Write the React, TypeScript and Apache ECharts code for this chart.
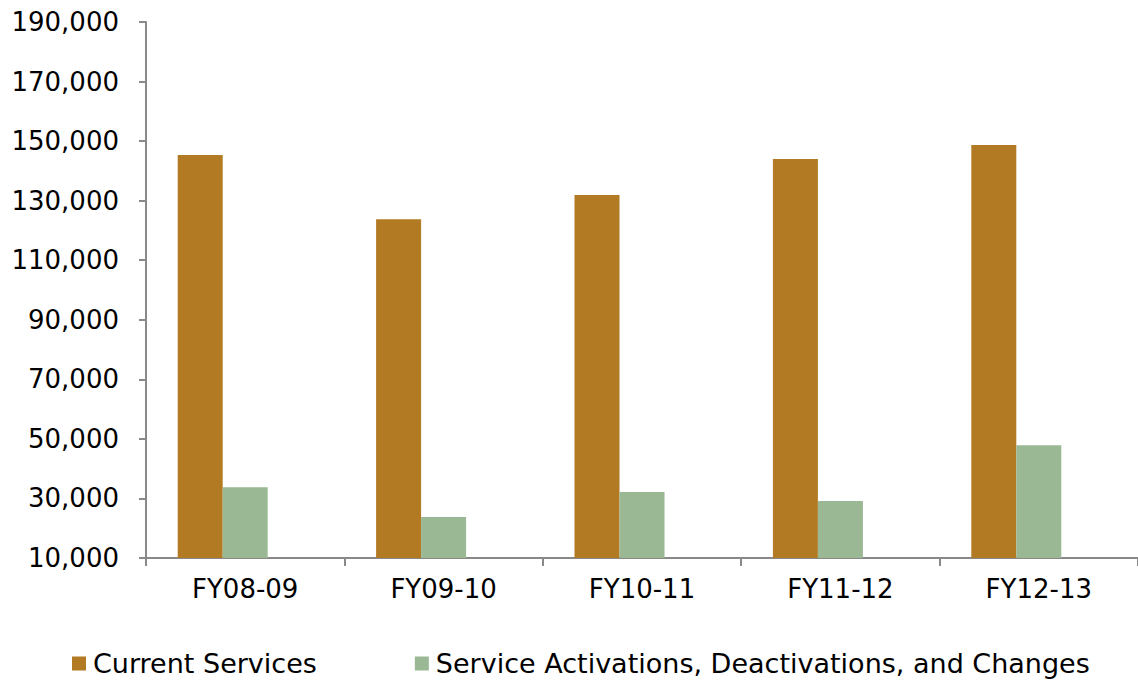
import React, { useEffect, useRef } from "react";
import * as echarts from "echarts";

const categories = ["FY08-09", "FY09-10", "FY10-11", "FY11-12", "FY12-13"];
const currentServices = [145300, 123800, 131900, 144000, 148700];
const activationsChanges = [33800, 23800, 32200, 29100, 47900];
const seriesNames = ["Current Services", "Service Activations, Deactivations, and Changes"];

const FONT = "DejaVu Sans";
const AXIS_COLOR = "#898989";

export default function App() {
  const ref = useRef<HTMLDivElement>(null);
  useEffect(() => {
    if (!ref.current) return;
    const chart = echarts.init(ref.current, undefined, { renderer: "svg" });
    chart.setOption({
      animation: false,
      backgroundColor: "#ffffff",
      textStyle: { fontFamily: FONT },
      grid: { left: 146, top: 22, right: 0, bottom: 123, containLabel: false },
      legend: {
        data: seriesNames,
        left: 72,
        top: 650,
        padding: 0,
        itemWidth: 14,
        itemHeight: 14,
        itemGap: 98,
        icon: "rect",
        textStyle: { fontFamily: FONT, fontSize: 27, color: "#000000", padding: [0, 0, 0, 2] },
      },
      xAxis: {
        type: "category",
        data: categories,
        axisLine: { show: true, lineStyle: { color: AXIS_COLOR, width: 2 } },
        axisTick: { show: true, length: 8, lineStyle: { color: AXIS_COLOR, width: 2 } },
        axisLabel: { fontFamily: FONT, fontSize: 26, color: "#000000", margin: 18 },
      },
      yAxis: {
        type: "value",
        min: 10000,
        max: 190000,
        interval: 20000,
        splitLine: { show: false },
        axisLine: { show: true, lineStyle: { color: AXIS_COLOR, width: 2 } },
        axisTick: { show: true, length: 7, lineStyle: { color: AXIS_COLOR, width: 2 } },
        axisLabel: {
          fontFamily: FONT,
          fontSize: 26,
          color: "#000000",
          margin: 27,
          formatter: (v: number) => v.toLocaleString("en-US"),
        },
      },
      series: [
        {
          name: seriesNames[0],
          type: "bar",
          data: currentServices,
          barWidth: 45,
          barGap: "0%",
          itemStyle: { color: "#B27A22" },
        },
        {
          name: seriesNames[1],
          type: "bar",
          data: activationsChanges,
          barWidth: 45,
          barGap: "0%",
          itemStyle: { color: "#9AB893" },
        },
        {
          name: "",
          type: "bar",
          data: categories.map(() => null),
          barWidth: 45,
          barGap: "0%",
          silent: true,
        },
      ],
    });
    return () => chart.dispose();
  }, []);
  return (
    <div
      ref={ref}
      style={{ position: "fixed", left: 0, top: 0, width: 1138, height: 681 }}
    />
  );
}
